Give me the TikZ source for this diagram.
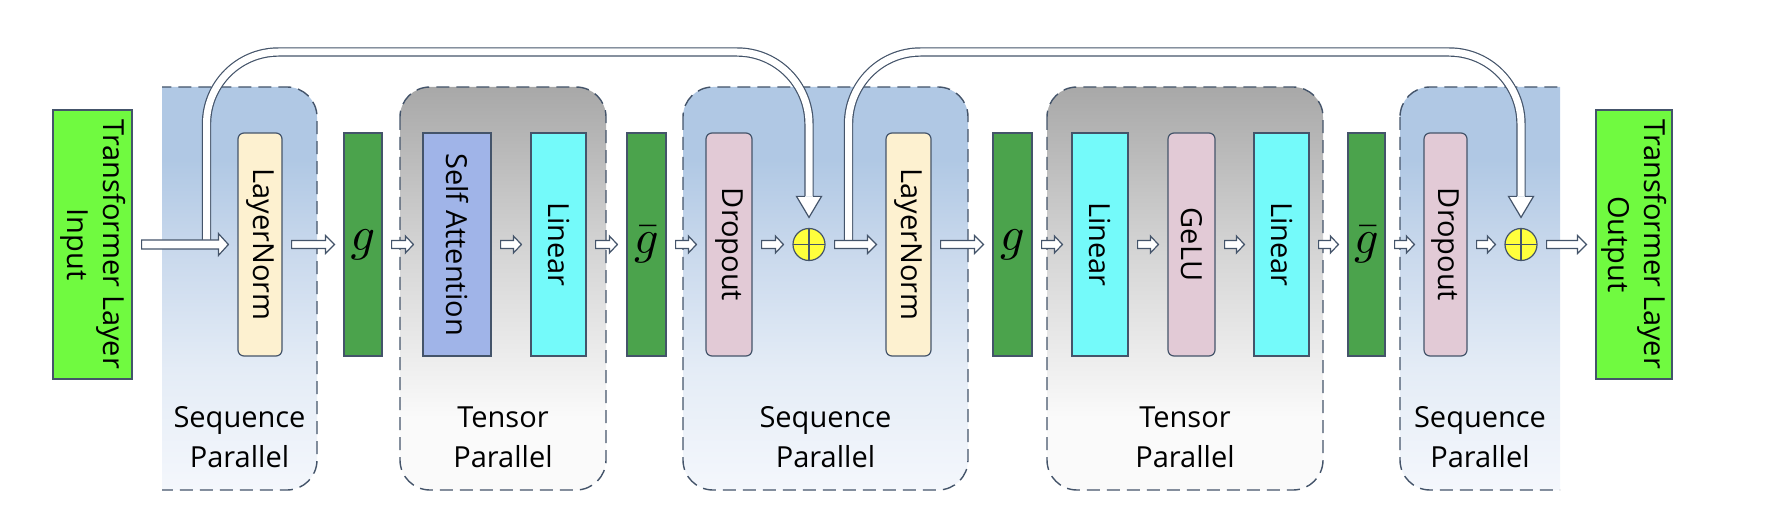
\documentclass[tikz,border=0pt]{standalone}
\usepackage[no-math]{fontspec}
\setmainfont{Open Sans}
\usepackage{graphicx}
\usetikzlibrary{calc}
\definecolor{edge}{RGB}{68,84,106}
\definecolor{grn}{RGB}{112,250,64}
\definecolor{gcol}{RGB}{75,163,76}
\definecolor{lncol}{RGB}{253,241,208}
\definecolor{sacol}{RGB}{160,180,232}
\definecolor{lincol}{RGB}{116,250,250}
\definecolor{docol}{RGB}{226,202,214}
\definecolor{yel}{RGB}{255,255,60}
\definecolor{spT}{RGB}{176,200,228}
\definecolor{spM}{RGB}{200,216,236}
\definecolor{spL}{RGB}{228,236,246}
\definecolor{spB}{RGB}{244,247,252}
\definecolor{tpT}{RGB}{168,168,168}
\definecolor{tpM}{RGB}{212,212,212}
\definecolor{tpB}{RGB}{250,250,250}
\pgfdeclareverticalshading{spshade}{100bp}{color(0bp)=(spB); color(25bp)=(spB); color(40bp)=(spL); color(55bp)=(spM); color(66bp)=(spT); color(100bp)=(spT)}
\pgfdeclareverticalshading{tpshade}{100bp}{color(0bp)=(tpB); color(25bp)=(tpB); color(34bp)=(tpB); color(55bp)=(tpM); color(75bp)=(tpT); color(100bp)=(tpT)}
\newcommand{\myGsym}{{\fontsize{10}{12}\selectfont\scalebox{4.8}{$g$}}}
\newcommand{\myGbarsym}{{\fontsize{10}{12}\selectfont\scalebox{4.8}{$\bar{g}$}}}
\begin{document}
\begin{tikzpicture}[x=1pt,y=-1pt,
  blk/.style={draw=edge, line width=1.2pt, minimum height=223pt, inner sep=0pt, text=black,
    font=\fontsize{29}{36}\selectfont},
  rblk/.style={blk, rounded corners=6pt},
  plus/.style={circle, draw=edge, line width=1.2pt, fill=yel, minimum size=32pt, inner sep=0pt,
    path picture={\draw[edge, line width=1.2pt]
      (path picture bounding box.north) -- (path picture bounding box.south)
      (path picture bounding box.west) -- (path picture bounding box.east);}},
  captxt/.style={align=center, inner sep=0pt, text=black, font=\fontsize{29}{40}\selectfont},
  fat/.style n args={3}{to path={let \p1=(\tikztostart),\p2=(\tikztotarget) in
    (\x1+9pt,\y1+#1) -- (\x2-9pt-#3,\y1+#1) -- (\x2-9pt-#3,\y1+#2) -- (\x2-9pt,\y1)
    -- (\x2-9pt-#3,\y1-#2) -- (\x2-9pt-#3,\y1-#1) -- (\x1+9pt,\y1-#1) -- cycle}},
  arrbig/.style={draw=edge, fill=white, line width=1.2pt, line join=miter, fat={4.5pt}{11pt}{10pt}},
  arrmed/.style={draw=edge, fill=white, line width=1.2pt, fat={4pt}{9pt}{9pt}},
  arrsm/.style={draw=edge, fill=white, line width=1.2pt, fat={4pt}{8.5pt}{8pt}},
  skip/.style={draw=edge, line width=1.2pt, double=white, double distance=7pt, rounded corners=72pt},
  spbox/.style={shade, shading=spshade, draw=edge, line width=1.4pt, dash pattern=on 13pt off 7pt, rounded corners=30pt},
  tpbox/.style={shade, shading=tpshade, draw=edge, line width=1.4pt, dash pattern=on 13pt off 7pt, rounded corners=30pt},
  headfill/.style={fill=white},
  headline/.style={draw=edge, line width=1.2pt, line join=miter}
]
\useasboundingbox (0,0) rectangle (1774,526);

% containers
\begin{scope}
  \clip (162,0) rectangle (1774,526);
  \path[spbox] (120,87) rectangle (317,490);
\end{scope}
\path[tpbox] (400,87) rectangle (606,490);
\path[spbox] (683,87) rectangle (968,490);
\path[tpbox] (1047,87) rectangle (1323,490);
\begin{scope}
  \clip (0,0) rectangle (1560,526);
  \path[spbox] (1400,87) rectangle (1600,490);
\end{scope}

% captions
\node[captxt] (c1) at (239.5,437.5) {Sequence\\Parallel};
\node[captxt] (c2) at (503,437.5) {Tensor\\Parallel};
\node[captxt] (c3) at (825.5,437.5) {Sequence\\Parallel};
\node[captxt] (c4) at (1185,437.5) {Tensor\\Parallel};
\node[captxt] (c5) at (1480,437.5) {Sequence\\Parallel};

% blocks
\node[blk, fill=grn, minimum width=79pt, minimum height=269pt] (in) at (92.5,244.5)
  {\rotatebox{-90}{\begin{tabular}{@{}c@{}}Transformer Layer\\Input\end{tabular}}};
\node[rblk, fill=lncol, minimum width=44pt] (ln1) at (260,244.5) {\rotatebox{-90}{LayerNorm}};
\node[blk, fill=gcol, minimum width=38pt] (g1) at (363,244.5) {\myGsym};
\node[blk, fill=sacol, minimum width=68pt] (sa) at (457,244.5) {\rotatebox{-90}{Self Attention}};
\node[blk, fill=lincol, minimum width=55pt] (lin1) at (558.5,244.5) {\rotatebox{-90}{Linear}};
\node[blk, fill=gcol, minimum width=39pt] (gb1) at (646.5,244.5) {\myGbarsym};
\node[rblk, fill=docol, minimum width=46pt] (do1) at (729,244.5) {\rotatebox{-90}{Dropout}};
\node[plus] (p1) at (809,244.5) {};
\node[rblk, fill=lncol, minimum width=45pt] (ln2) at (908.5,244.5) {\rotatebox{-90}{LayerNorm}};
\node[blk, fill=gcol, minimum width=39pt] (g2) at (1012.5,244.5) {\myGsym};
\node[blk, fill=lincol, minimum width=56pt] (lin2) at (1100,244.5) {\rotatebox{-90}{Linear}};
\node[rblk, fill=docol, minimum width=47pt] (gelu) at (1191.5,244.5) {\rotatebox{-90}{GeLU}};
\node[blk, fill=lincol, minimum width=55pt] (lin3) at (1281.5,244.5) {\rotatebox{-90}{Linear}};
\node[blk, fill=gcol, minimum width=37pt] (gb2) at (1366.5,244.5) {\myGbarsym};
\node[rblk, fill=docol, minimum width=43pt] (do2) at (1445.5,244.5) {\rotatebox{-90}{Dropout}};
\node[plus] (p2) at (1521,244.5) {};
\node[blk, fill=grn, minimum width=76pt, minimum height=269pt] (out) at (1634,244.5)
  {\rotatebox{-90}{\begin{tabular}{@{}c@{}}Transformer Layer\\Output\end{tabular}}};

% skip connections
\coordinate (ytop) at (0,52);
\coordinate (s1) at (206.5,244.5);
\coordinate (s2) at (848.5,244.5);
\coordinate (hd1) at ($(p1.north)+(0,-31.5)$);
\coordinate (hd2) at ($(p2.north)+(0,-31.5)$);
\coordinate (tp1) at ($(p1.north)+(0,-10.5)$);
\coordinate (tp2) at ($(p2.north)+(0,-10.5)$);
\draw[skip] (s1) -- (s1 |- ytop) -- (p1 |- ytop) -- (hd1);
\draw[skip] (s2) -- (s2 |- ytop) -- (p2 |- ytop) -- (hd2);
\fill[headfill] ($(hd1)+(-12.5,0)$) -- ($(hd1)+(12.5,0)$) -- (tp1) -- cycle;
\draw[headline] ($(hd1)+(-4.1,0)$) -- ($(hd1)+(-12.5,0)$) -- (tp1) -- ($(hd1)+(12.5,0)$) -- ($(hd1)+(4.1,0)$);
\fill[headfill] ($(hd2)+(-12.5,0)$) -- ($(hd2)+(12.5,0)$) -- (tp2) -- cycle;
\draw[headline] ($(hd2)+(-4.1,0)$) -- ($(hd2)+(-12.5,0)$) -- (tp2) -- ($(hd2)+(12.5,0)$) -- ($(hd2)+(4.1,0)$);

% arrows
\draw[arrbig] (in.east) to (ln1.west);
\draw[arrmed] (ln1.east) to (g1.west);
\draw[arrsm] (g1.east) to (sa.west);
\draw[arrsm] (sa.east) to (lin1.west);
\draw[arrsm] (lin1.east) to (gb1.west);
\draw[arrsm] (gb1.east) to (do1.west);
\draw[arrsm] (do1.east) to (p1.west);
\draw[arrmed] (p1.east) to (ln2.west);
\draw[arrmed] (ln2.east) to (g2.west);
\draw[arrsm] (g2.east) to (lin2.west);
\draw[arrsm] (lin2.east) to (gelu.west);
\draw[arrsm] (gelu.east) to (lin3.west);
\draw[arrsm] (lin3.east) to (gb2.west);
\draw[arrsm] (gb2.east) to (do2.west);
\draw[arrsm] (do2.east) to (p2.west);
\draw[arrmed] (p2.east) to (out.west);
\end{tikzpicture}
\end{document}
